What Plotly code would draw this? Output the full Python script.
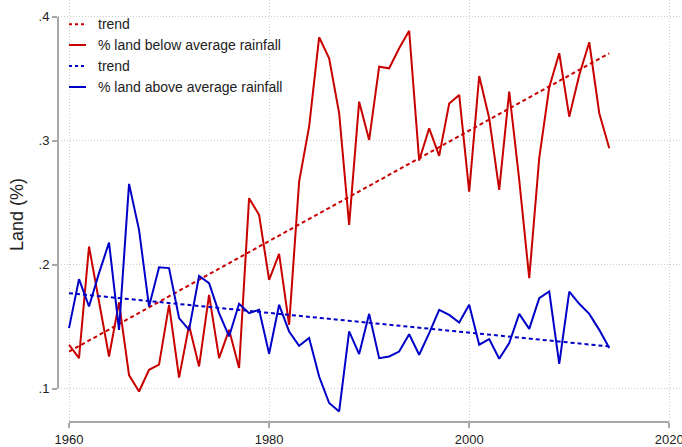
import plotly.graph_objects as go

# Annual share of land area with below / above average rainfall
years = list(range(1960, 2015))

below_avg = [
    0.1355, 0.1247, 0.2147, 0.1700, 0.1260, 0.1696, 0.1110, 0.0978, 0.1153, 0.1194,
    0.1677, 0.1090, 0.1510, 0.1180, 0.1757, 0.1247, 0.1475, 0.1167, 0.2537, 0.2402,
    0.1878, 0.2088, 0.1516, 0.2670, 0.3114, 0.3834, 0.3665, 0.3222, 0.2322, 0.3315,
    0.3006, 0.3597, 0.3584, 0.3745, 0.3887, 0.2840, 0.3100, 0.2878, 0.3300, 0.3369,
    0.2590, 0.3522, 0.3181, 0.2604, 0.3396, 0.2684, 0.1892, 0.2859, 0.3431, 0.3705,
    0.3194, 0.3530, 0.3794, 0.3222, 0.2940,
]

above_avg = [
    0.1489, 0.1884, 0.1663, 0.1932, 0.2179, 0.1475, 0.2652, 0.2281, 0.1663, 0.1980,
    0.1973, 0.1570, 0.1475, 0.1910, 0.1852, 0.1610, 0.1422, 0.1685, 0.1610, 0.1637,
    0.1282, 0.1677, 0.1462, 0.1347, 0.1409, 0.1099, 0.0885, 0.0817, 0.1462, 0.1280,
    0.1604, 0.1247, 0.1260, 0.1300, 0.1440, 0.1274, 0.1449, 0.1637, 0.1596, 0.1534,
    0.1677, 0.1355, 0.1400, 0.1242, 0.1368, 0.1604, 0.1483, 0.1731, 0.1784, 0.1201,
    0.1784, 0.1685, 0.1604, 0.1475, 0.1328,
]

# Linear trend lines (start / end values)
trend_years = [1960, 2014]
below_trend = [0.1300, 0.3705]
above_trend = [0.1771, 0.1341]

x_ticks = [1960, 1980, 2000, 2020]
y_ticks = [0.1, 0.2, 0.3, 0.4]
y_tick_labels = [".1", ".2", ".3", ".4"]

series_names = ["trend", "% land below average rainfall",
                "trend", "% land above average rainfall"]

RED = "#c80000"
BLUE = "#0000c8"
AXIS_GRAY = "#a8a8a8"
GRID_GRAY = "#cccccc"
TEXT = "#222222"
FONT = "Liberation Sans, Arial, sans-serif"

fig = go.Figure()

fig.add_trace(go.Scatter(x=trend_years, y=below_trend, mode="lines", name=series_names[0],
                         line=dict(color=RED, width=2, dash="4px,3px")))
fig.add_trace(go.Scatter(x=years, y=below_avg, mode="lines", name=series_names[1],
                         line=dict(color=RED, width=2)))
fig.add_trace(go.Scatter(x=trend_years, y=above_trend, mode="lines", name=series_names[2],
                         line=dict(color=BLUE, width=2, dash="4px,3px")))
fig.add_trace(go.Scatter(x=years, y=above_avg, mode="lines", name=series_names[3],
                         line=dict(color=BLUE, width=2)))

W, H = 682, 447
ML, MR, MT, MB = 58, 0, 0, 25
PW, PH = W - ML - MR, H - MT - MB


def px_to_paper(px, py):
    return (px - ML) / PW, 1 - (py - MT) / PH


shapes = []
annotations = []

# Legend drawn inside the plot, top-left
legend_styles = [
    dict(color=RED, dash="3px,3px"),
    dict(color=RED, dash="solid"),
    dict(color=BLUE, dash="3px,3px"),
    dict(color=BLUE, dash="solid"),
]
row_y = [24.3, 45.0, 66.0, 87.0]
for name, style, ry in zip(series_names, legend_styles, row_y):
    x0, y0 = px_to_paper(69, ry)
    x1, _ = px_to_paper(86, ry)
    shapes.append(dict(type="line", xref="paper", yref="paper", x0=x0, x1=x1, y0=y0, y1=y0,
                       line=dict(color=style["color"], width=2, dash=style["dash"])))
    tx, ty = px_to_paper(96, ry)
    annotations.append(dict(text=name, xref="paper", yref="paper", x=tx, y=ty,
                            xanchor="left", yanchor="middle", showarrow=False,
                            font=dict(family=FONT, size=14, color=TEXT)))

# Axis lines spanning only the labelled range
shapes.append(dict(type="line", xref="x", yref="paper", x0=x_ticks[0], x1=x_ticks[-1],
                   y0=0, y1=0, line=dict(color=AXIS_GRAY, width=2)))
shapes.append(dict(type="line", xref="paper", yref="y", x0=0, x1=0,
                   y0=y_ticks[0], y1=y_ticks[-1], line=dict(color=AXIS_GRAY, width=2)))

# Y axis title
ax, ay = px_to_paper(17, 215)
annotations.append(dict(text="Land (%)", xref="paper", yref="paper", x=ax, y=ay,
                        xanchor="center", yanchor="middle", textangle=-90, showarrow=False,
                        font=dict(family=FONT, size=18, color=TEXT)))

fig.update_layout(
    width=W, height=H,
    margin=dict(l=ML, r=MR, t=MT, b=MB),
    paper_bgcolor="white",
    plot_bgcolor="white",
    showlegend=False,
    shapes=shapes,
    annotations=annotations,
    font=dict(family=FONT, size=13, color=TEXT),
    xaxis=dict(
        range=[1958.9, 2021.27],
        tickmode="array", tickvals=x_ticks, ticktext=[str(t) for t in x_ticks],
        ticks="outside", ticklen=5, tickwidth=1.5, tickcolor=AXIS_GRAY,
        showline=False, zeroline=False,
        showgrid=True, gridcolor=GRID_GRAY, griddash="1px,2px", gridwidth=1,
        tickfont=dict(family=FONT, size=13, color=TEXT),
        ticklabeloverflow="allow",
        automargin=False,
    ),
    yaxis=dict(
        range=[0.0732, 0.41346],
        tickmode="array", tickvals=y_ticks, ticktext=y_tick_labels,
        ticks="outside", ticklen=5, tickwidth=1.5, tickcolor=AXIS_GRAY,
        showline=False, zeroline=False,
        showgrid=True, gridcolor=GRID_GRAY, griddash="1px,2px", gridwidth=1,
        tickfont=dict(family=FONT, size=13, color=TEXT),
        ticklabeloverflow="allow",
        automargin=False,
    ),
)

fig.write_html("out.html")
